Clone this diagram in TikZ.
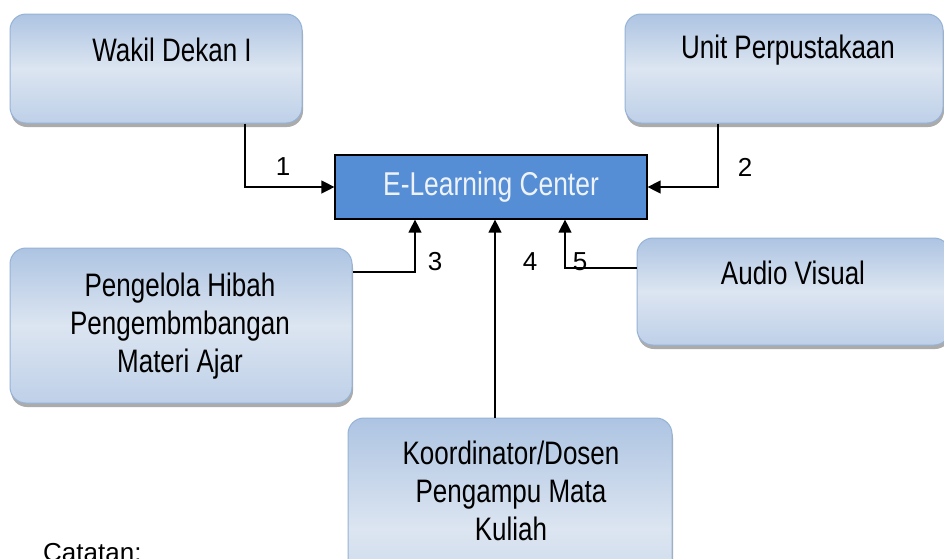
\documentclass[tikz,border=0pt]{standalone}
\usepackage{fontspec}
\setmainfont{Liberation Sans}[FakeStretch=0.8]
\newfontfamily\plainfont{Liberation Sans}
\usetikzlibrary{arrows.meta,shadows}
\definecolor{boxedge}{HTML}{95B3D7}
\definecolor{boxtop}{HTML}{ADC4E2}
\definecolor{boxmid}{HTML}{DCE5F1}
\definecolor{boxbot}{HTML}{BED0E8}
\definecolor{elcfill}{HTML}{558ED5}
\definecolor{elctext}{HTML}{EEF3FA}
\tikzset{
  ibox/.style={draw=boxedge, line width=1pt, rounded corners=16pt,
    top color=boxtop, bottom color=boxbot, middle color=boxmid,
    drop shadow={shadow xshift=1pt, shadow yshift=-4pt, fill=black!60, opacity=0.55},
    inner sep=0pt},
  btxt/.style={font=\fontsize{32.5}{38}\selectfont, align=center, inner sep=0pt, text=black},
  elcbox/.style={draw=black, line width=1.2pt, fill=elcfill, text=elctext,
    font=\fontsize{33}{38}\selectfont, inner sep=0pt},
  arr/.style={line width=1.3pt, -{Triangle[length=13pt,width=13pt]}},
  num/.style={font=\plainfont\fontsize{26}{30}\selectfont, inner sep=0pt}
}
\begin{document}
\begin{tikzpicture}[x=1pt,y=-1pt]
\useasboundingbox (0,0) rectangle (944,558);
\fill[white] (0,0) rectangle (944,558);

% boxes
\node[ibox, minimum width=292pt, minimum height=109pt] (wakil) at (156,68.5) {};
\node[btxt] (wakilT) at (172,50) {Wakil Dekan I};

\node[ibox, minimum width=318pt, minimum height=109pt] (unit) at (784,68.5) {};
\node[btxt] (unitT) at (788,50) {Unit Perpustakaan};

\node[ibox, minimum width=313pt, minimum height=107pt] (audio) at (793.5,291.5) {};
\node[btxt] (audioT) at (793,273) {Audio Visual};

\node[ibox, minimum width=342pt, minimum height=155pt] (peng) at (181,325.5) {};
\node[btxt] (pengT) at (180,326) {Pengelola Hibah\\Pengembmbangan\\Materi Ajar};

\node[ibox, minimum width=324pt, minimum height=222pt] (koord) at (510,529) {};
\node[btxt] (koordT) at (511,491) {Koordinator/Dosen\\Pengampu Mata\\Kuliah};

\node[elcbox, minimum width=312pt, minimum height=64pt] (elc) at (491,187) {E-Learning Center};

% connectors
\coordinate (c4) at ([xshift=4pt]elc.south);
\draw[arr] ([xshift=89pt]wakil.south) |- (elc.west);
\draw[arr] ([xshift=-66pt]unit.south) |- (elc.east);
\draw[arr] ([yshift=53.5pt]peng.east) -| ([xshift=-76pt]elc.south);
\draw[arr] (c4 |- koord.north) -- (c4);
\draw[arr] ([yshift=23.5pt]audio.west) -| ([xshift=74pt]elc.south);

% labels
\node[num] (l1) at (283,167) {1};
\node[num] (l2) at (745,167) {2};
\node[num] (l3) at (435,262) {3};
\node[num] (l4) at (530,262) {4};
\node[num] (l5) at (580,262) {5};

\node[font=\plainfont\fontsize{26}{30}\selectfont, anchor=north west, inner sep=0pt] (cat) at (43,543) {Catatan:};
\end{tikzpicture}
\end{document}
